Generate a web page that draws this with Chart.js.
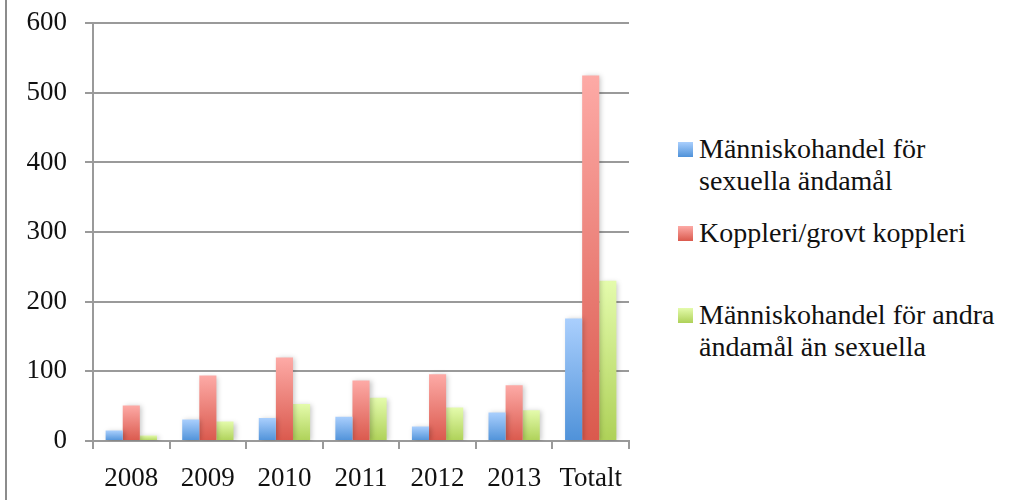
<!DOCTYPE html>
<html>
<head>
<meta charset="utf-8">
<script src="https://cdn.jsdelivr.net/npm/chart.js@4/dist/chart.umd.min.js"></script>
<style>
  html, body { margin: 0; padding: 0; background: #fff; }
  body { width: 1023px; height: 500px; position: relative; overflow: hidden;
         font-family: "Liberation Serif", serif; color: #111; }
  #frame { position: absolute; left: 5px; top: 0; width: 0; height: 500px; border-left: 2px solid #8c8c8c; }
  #wrap { position: absolute; left: 0; top: -11px; width: 640px; height: 511px; }
  #legend { position: absolute; left: 678px; top: 0; }
  .item { position: absolute; left: 0; white-space: nowrap; font-size: 28px; line-height: 32px; }
  .sw { position: absolute; left: 0; width: 15px; height: 15px; }
  .txt { position: absolute; left: 21px; }
</style>
</head>
<body>
<div id="frame"></div>
<div id="wrap"><canvas id="graf" width="640" height="511"></canvas></div>
<div id="legend"></div>
<script>
const kategorier = ["2008", "2009", "2010", "2011", "2012", "2013", "Totalt"];
const sexuella = [15, 31, 33, 35, 21, 41, 176];
const koppleri = [51, 94, 120, 87, 96, 80, 525];
const andra    = [8, 28, 53, 62, 48, 44, 230];
const serieNamn = [
  ["Människohandel för", "sexuella ändamål"],
  ["Koppleri/grovt koppleri"],
  ["Människohandel för andra", "ändamål än sexuella"]
];
const yTicks = [0, 100, 200, 300, 400, 500, 600];

const farger = [
  { top: "#aacffd", bot: "#4f92d9" },
  { top: "#fdaaa6", bot: "#da594d" },
  { top: "#e4fbac", bot: "#aed158" }
];

function grad(idx) {
  return (c) => {
    const chart = c.chart;
    if (!chart.chartArea || c.raw == null) return farger[idx].bot;
    const ys = chart.scales.y;
    const y1 = ys.getPixelForValue(c.raw);
    const y0 = ys.getPixelForValue(0);
    const g = chart.ctx.createLinearGradient(0, y1, 0, y0);
    g.addColorStop(0, farger[idx].top);
    g.addColorStop(1, farger[idx].bot);
    return g;
  };
}

const skugga = {
  id: "skugga",
  beforeDatasetsDraw(chart) {
    const ctx = chart.ctx;
    ctx.save();
    ctx.shadowColor = "rgba(0,0,0,0.22)";
    ctx.shadowBlur = 5;
    ctx.shadowOffsetX = 2;
    ctx.shadowOffsetY = 1;
  },
  afterDatasetsDraw(chart) {
    chart.ctx.restore();
  }
};

const font = { family: "'Liberation Serif', serif", size: 27 };

new Chart(document.getElementById("graf"), {
  type: "bar",
  data: {
    labels: kategorier,
    datasets: [
      { label: serieNamn[0].join(" "), data: sexuella, backgroundColor: grad(0) },
      { label: serieNamn[1].join(" "), data: koppleri, backgroundColor: grad(1) },
      { label: serieNamn[2].join(" "), data: andra, backgroundColor: grad(2) }
    ]
  },
  options: {
    responsive: false,
    animation: false,
    layout: { padding: { left: 0, right: 11, top: 0, bottom: 0 } },
    datasets: { bar: { categoryPercentage: 0.67, barPercentage: 1 } },
    plugins: { legend: { display: false }, tooltip: { enabled: false } },
    scales: {
      x: {
        grid: { offset: true, drawOnChartArea: false, color: "#9a9a9a", lineWidth: 2, tickLength: 8 },
        border: { color: "#9a9a9a", width: 2 },
        ticks: { color: "#111", font, padding: 14, maxRotation: 0 },
        afterFit: (s) => { s.height = 59; }
      },
      y: {
        min: 0, max: 600,
        afterBuildTicks: (s) => { s.ticks = yTicks.map((v) => ({ value: v })); },
        grid: { color: "#9a9a9a", lineWidth: 2, tickLength: 8 },
        border: { color: "#9a9a9a", width: 2 },
        ticks: { color: "#111", font, padding: 18 },
        afterFit: (s) => { s.width = 93; }
      }
    }
  },
  plugins: [skugga]
});

// legend
const leg = document.getElementById("legend");
const legPos = [142, 226, 308];
serieNamn.forEach((namn, i) => {
  const it = document.createElement("div");
  it.className = "item";
  it.style.top = legPos[i] + "px";
  const sw = document.createElement("div");
  sw.className = "sw";
  sw.style.background = `linear-gradient(${farger[i].top}, ${farger[i].bot})`;
  const t = document.createElement("div");
  t.className = "txt";
  t.style.top = "-9px";
  t.innerHTML = namn.join("<br>");
  it.appendChild(sw);
  it.appendChild(t);
  leg.appendChild(it);
});
</script>
</body>
</html>
